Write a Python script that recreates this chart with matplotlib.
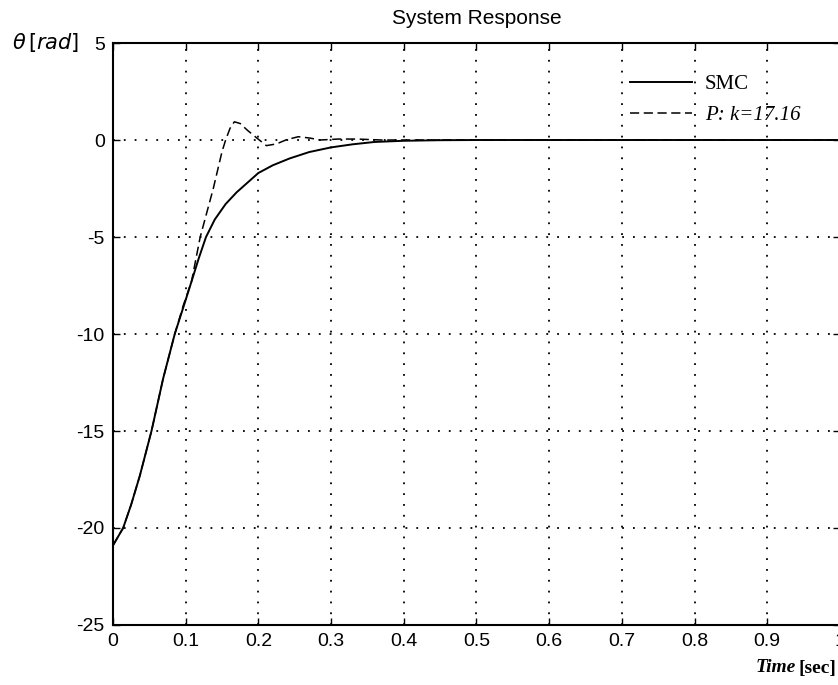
import matplotlib
matplotlib.use("Agg")
import matplotlib.pyplot as plt

# SMC response
t_smc = [0, 0.014, 0.025, 0.037, 0.053, 0.069, 0.085, 0.097, 0.108, 0.118, 0.128,
         0.14, 0.155, 0.17, 0.185, 0.2, 0.22, 0.243, 0.27, 0.3, 0.33, 0.36, 0.4,
         0.45, 0.5, 1.0]
y_smc = [-20.9, -20.0, -18.8, -17.3, -15.0, -12.3, -10.0, -8.6, -7.3, -6.1, -5.0,
         -4.1, -3.3, -2.7, -2.2, -1.7, -1.3, -0.95, -0.62, -0.38, -0.22, -0.1, -0.04,
         -0.01, 0.0, 0.0]

# P controller response, k = 17.16
t_p = [0, 0.014, 0.025, 0.037, 0.053, 0.069, 0.085, 0.097, 0.108, 0.12, 0.138,
       0.15, 0.155, 0.161, 0.167, 0.175, 0.185, 0.198, 0.211, 0.225, 0.239, 0.255,
       0.271, 0.285, 0.31, 0.335, 0.37, 1.0]
y_p = [-20.9, -20.0, -18.8, -17.3, -15.0, -12.3, -10.0, -8.5, -7.3, -5.0, -2.5,
       -0.6, 0.0, 0.6, 0.94, 0.85, 0.5, 0.1, -0.29, -0.2, 0.02, 0.17,
       0.1, 0.0, 0.05, 0.05, 0.0, 0.0]

xticks = [0, 0.1, 0.2, 0.3, 0.4, 0.5, 0.6, 0.7, 0.8, 0.9, 1]
xticklabels = ["0", "0.1", "0.2", "0.3", "0.4", "0.5", "0.6", "0.7", "0.8", "0.9", "1"]
yticks = [-25, -20, -15, -10, -5, 0, 5]

plt.rcParams["font.family"] = "Liberation Sans"
plt.rcParams["axes.unicode_minus"] = False

fig = plt.figure(figsize=(8.38, 6.85), dpi=100)
ax = fig.add_axes([0.1348, 0.0876, 0.8675, 0.8496])

ax.plot(t_smc, y_smc, color="black", linewidth=1.4, label="SMC")
ax.plot(t_p, y_p, color="black", linewidth=1.1, linestyle=(0, (6, 3)), label="P: k=17.16")

ax.set_xlim(0, 1)
ax.set_ylim(-25, 5)
ax.set_xticks(xticks)
ax.set_xticklabels(xticklabels)
ax.set_yticks(yticks)
ax.tick_params(direction="in", length=5, width=1, top=True, right=True,
               labelsize=14, pad=6)
ax.grid(True, color="black", linestyle=(0, (1, 5)), linewidth=1.3)
for s in ax.spines.values():
    s.set_linewidth(1.5)

ax.set_title("System Response", fontsize=15, pad=14)

# axis labels sit at the corners, MATLAB style
fig.text(12 / 838, 1 - 43 / 685, r"$\theta\,[rad]$", fontsize=15, va="center", ha="left")
sec = fig.text(836 / 838, 1 - 668 / 685, "[sec]", fontsize=14, fontweight="bold",
               family="Liberation Serif", va="center", ha="right")
ax.annotate("Time", xy=(0, 0.5), xycoords=sec, xytext=(-2, 0), textcoords="offset points",
            ha="right", va="center", fontsize=14, fontstyle="italic", fontweight="bold",
            family="Liberation Serif")

leg = ax.legend(loc="upper left", bbox_to_anchor=(0.711, 0.946), frameon=False,
                handlelength=3.0, handletextpad=0.6, labelspacing=0.55,
                borderpad=0, borderaxespad=0,
                prop={"family": "Liberation Serif", "size": 15})
leg.get_texts()[1].set_fontstyle("italic")

fig.savefig("out.png", dpi=100)
